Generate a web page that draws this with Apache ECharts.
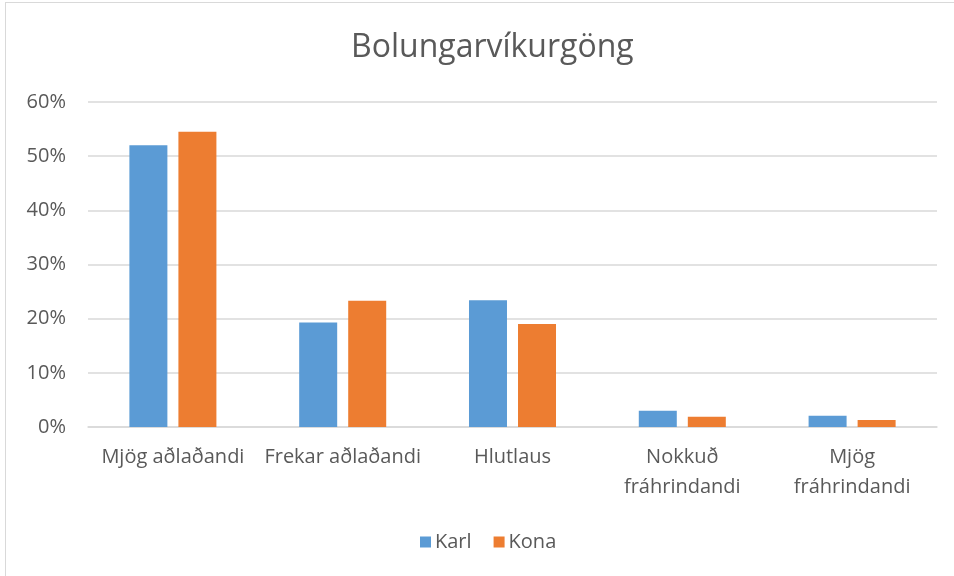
<!DOCTYPE html>
<html>
<head>
<meta charset="utf-8">
<script src="https://cdn.jsdelivr.net/npm/echarts@6/dist/echarts.min.js"></script>
<style>
  html, body { margin: 0; padding: 0; background: #fff; }
  #frame { position: absolute; left: 5px; top: 2px; width: 1000px; height: 700px; border: 1px solid #d9d9d9; box-sizing: border-box; }
  #chart { position: absolute; left: 0; top: 0; width: 954px; height: 576px; }
</style>
</head>
<body>
<div id="frame"></div>
<div id="chart"></div>
<script>
  var categories = ['Mjög aðlaðandi', 'Frekar aðlaðandi', 'Hlutlaus', 'Nokkuð\nfráhrindandi', 'Mjög\nfráhrindandi'];
  var karl = [52.0, 19.3, 23.4, 3.0, 2.1];
  var kona = [54.5, 23.3, 19.0, 1.9, 1.3];
  var yTicks = [0, 10, 20, 30, 40, 50, 60];

  var font = 'Open Sans, Noto Sans, sans-serif';
  var chart = echarts.init(document.getElementById('chart'));
  chart.setOption({
    animation: false,
    title: {
      text: 'Bolungarvíkurgöng',
      left: 346,
      top: 27,
      textStyle: { fontFamily: font, fontSize: 32, fontWeight: 'normal', color: '#595959' }
    },
    legend: {
      data: ['Karl', 'Kona'],
      bottom: 19,
      left: 415,
      itemWidth: 11,
      itemHeight: 11,
      itemGap: 22,
      icon: 'rect',
      textStyle: { fontFamily: font, fontSize: 20, color: '#595959', padding: [0, 0, 0, -1] }
    },
    grid: { left: 88, right: 17, top: 102, bottom: 149 },
    xAxis: {
      type: 'category',
      data: categories,
      axisLine: { lineStyle: { color: '#d9d9d9', width: 1.5 } },
      axisTick: { show: false },
      axisLabel: {
        interval: 0,
        margin: 15,
        fontFamily: font,
        fontSize: 20,
        lineHeight: 30,
        color: '#595959'
      }
    },
    yAxis: {
      type: 'value',
      min: yTicks[0],
      max: yTicks[yTicks.length - 1],
      interval: 10,
      axisLine: { show: false },
      axisTick: { show: false },
      splitLine: { lineStyle: { color: '#d9d9d9', width: 1.5 } },
      axisLabel: {
        margin: 22,
        fontFamily: font,
        fontSize: 20,
        color: '#595959',
        formatter: function (v) { return v + '%'; }
      }
    },
    series: [
      {
        name: 'Karl',
        type: 'bar',
        data: karl,
        barWidth: 38,
        barGap: '29%',
        itemStyle: { color: '#5b9bd5' }
      },
      {
        name: 'Kona',
        type: 'bar',
        data: kona,
        barWidth: 38,
        itemStyle: { color: '#ed7d31' }
      }
    ]
  });
</script>
</body>
</html>
